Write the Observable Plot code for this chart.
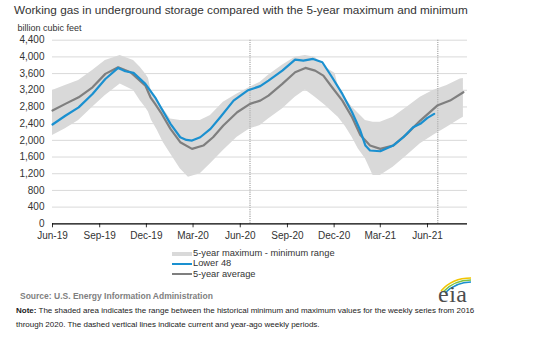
<!DOCTYPE html>
<html><head><meta charset="utf-8">
<script src="https://cdn.jsdelivr.net/npm/d3@7"></script>
<script src="https://cdn.jsdelivr.net/npm/@observablehq/plot@0.6"></script>
<style>
body{margin:0;background:#fff;font-family:"Liberation Sans",Arial,sans-serif;}
#root{position:relative;width:552px;height:350px;overflow:hidden;background:#fff;}
.t{position:absolute;white-space:nowrap;line-height:1;}
#chart{position:absolute;left:0;top:0;}
</style></head>
<body><div id="root">
<div class="t" style="left:14px;top:4px;font-size:11.75px;color:#333;">Working gas in underground storage compared with the 5-year maximum and minimum</div>
<div class="t" style="left:17.5px;top:23.9px;font-size:9px;color:#333;">billion cubic feet</div>
<div id="chart"></div>
<div id="legend"></div>
<div class="t" style="left:20px;top:292.3px;font-size:8.5px;color:#7f7f7f;font-weight:bold;">Source: U.S. Energy Information Administration</div>
<div class="t" style="left:16px;top:307.2px;font-size:8px;color:#222;"><b>Note:</b> The shaded area indicates the range between the historical minimum and maximum values for the weekly series from 2016</div>
<div class="t" style="left:16px;top:320.5px;font-size:8px;color:#222;">through 2020. The dashed vertical lines indicate current and year-ago weekly periods.</div>
<svg style="position:absolute;left:430px;top:274px;" width="60" height="34">
  <path d="M11,17 Q22,4 41,4" fill="none" stroke="#f2c500" stroke-width="1.6"/>
  <path d="M13,18 Q24,6 41,6" fill="none" stroke="#7cc242" stroke-width="1.6"/>
  <path d="M15,19 Q26,8 41,8" fill="none" stroke="#1a90d0" stroke-width="1.6"/>
  <text x="8" y="28" font-family="Liberation Serif, DejaVu Serif, serif" font-size="24" fill="#4d4d4d" letter-spacing="0.5">eia</text>
</svg>
</div>
<script>
// ---- data ----
const yTicks = [0, 400, 800, 1200, 1600, 2000, 2400, 2800, 3200, 3600, 4000, 4400];
const xTicks = ["2019-06-01","2019-09-01","2019-12-01","2020-03-01","2020-06-01","2020-09-01","2020-12-01","2021-03-01","2021-06-01"];
const xDomain = ["2019-06-01","2021-08-18"];
const weekMarkers = ["2020-06-20","2021-06-21"];

const bandDates = ["2019-06-01","2019-06-26","2019-07-22","2019-08-18","2019-09-12","2019-10-11","2019-11-06","2019-11-19","2019-11-29","2019-12-05","2019-12-11","2019-12-22","2020-01-03","2020-01-17","2020-02-05","2020-02-21","2020-03-15","2020-04-04","2020-04-29","2020-05-26","2020-06-20","2020-07-10","2020-07-26","2020-08-22","2020-09-16","2020-10-06","2020-10-25","2020-11-14","2020-12-03","2020-12-09","2020-12-23","2021-01-05","2021-01-17","2021-01-31","2021-02-15","2021-03-01","2021-03-26","2021-04-22","2021-05-18","2021-06-12","2021-07-09","2021-08-04","2021-08-10"];
const bandMax = [3193,3312,3432,3672,3911,4031,3911,3750,3593,3490,3150,2953,2750,2514,2474,2474,2474,2594,2913,3113,3272,3392,3560,3800,3990,4031,3990,3750,3600,3300,2994,2800,2650,2474,2434,2434,2554,2793,3032,3193,3312,3472,3480];
const bandMin = [2115,2275,2474,2793,3073,3350,3193,2950,2793,2680,2480,2250,1950,1676,1317,1116,1197,1437,1756,2074,2275,2354,2514,2754,3032,3209,3032,2833,2620,2554,2330,2074,1800,1557,1157,1157,1357,1636,1916,2115,2314,2514,2554];

const avgDates = ["2019-06-01","2019-06-26","2019-07-22","2019-08-18","2019-09-12","2019-10-07","2019-10-31","2019-11-29","2019-12-09","2019-12-18","2019-12-29","2020-01-17","2020-02-05","2020-02-28","2020-03-21","2020-04-09","2020-04-29","2020-05-26","2020-06-20","2020-07-10","2020-07-26","2020-08-22","2020-09-16","2020-10-06","2020-10-25","2020-11-10","2020-11-27","2020-12-17","2021-01-05","2021-01-21","2021-02-09","2021-03-01","2021-03-26","2021-04-22","2021-05-18","2021-06-20","2021-07-15","2021-08-10"];
const avgValues = [2713,2874,3032,3272,3593,3751,3631,3312,3032,2874,2673,2275,1955,1796,1875,2074,2354,2673,2874,2953,3073,3353,3631,3736,3672,3552,3272,2953,2554,2130,1875,1796,1875,2155,2474,2833,2953,3152];

const lower48Dates = ["2019-06-01","2019-06-26","2019-07-22","2019-08-18","2019-09-12","2019-10-07","2019-10-21","2019-11-06","2019-11-29","2019-12-18","2019-12-29","2020-01-17","2020-02-05","2020-02-17","2020-02-28","2020-03-15","2020-04-04","2020-04-23","2020-05-19","2020-06-15","2020-07-10","2020-07-26","2020-08-22","2020-09-16","2020-10-02","2020-10-21","2020-11-08","2020-11-27","2020-12-17","2021-01-05","2021-01-21","2021-01-31","2021-02-09","2021-03-01","2021-03-26","2021-04-15","2021-05-04","2021-05-18","2021-06-01","2021-06-14"];
const lower48Values = [2380,2590,2790,3110,3470,3736,3655,3616,3353,3032,2793,2395,2074,2010,1995,2074,2275,2554,2953,3193,3300,3432,3672,3935,3911,3951,3871,3512,3113,2673,2235,1875,1756,1739,1875,2074,2314,2395,2539,2634];

const legendItems = ["5-year maximum - minimum range","Lower 48","5-year average"];
const colors = {band:"#d9d9d9", lower48:"#1a90d0", avg:"#7f7f7f"};

// ---- build tables ----
const dt = s => new Date(s + "T00:00:00Z");
const band = bandDates.map((d,i)=>({date:dt(d), max:bandMax[i], min:bandMin[i]}));
const avg = avgDates.map((d,i)=>({date:dt(d), value:avgValues[i]}));
const lower48 = lower48Dates.map((d,i)=>({date:dt(d), value:lower48Values[i]}));

const chart = Plot.plot({
  width: 552, height: 245,
  marginLeft: 52, marginRight: 85, marginTop: 39.7, marginBottom: 21.7,
  style: {fontFamily:"Liberation Sans, Arial, sans-serif", fontSize:"10px", color:"#333", background:"transparent", overflow:"visible"},
  x: {type:"utc", domain: xDomain.map(dt), ticks: xTicks.map(dt), tickFormat: d3.utcFormat("%b-%y"), tickSize:4, tickPadding:4, label:null},
  y: {domain:[0,4400], ticks: yTicks, tickFormat: d3.format(","), tickSize:0, tickPadding:8, label:null},
  marks: [
    Plot.ruleY(yTicks.slice(1), {stroke:"#d9d9d9", strokeWidth:1}),
    Plot.areaY(band, {x:"date", y1:"min", y2:"max", fill:colors.band}),
    Plot.ruleX(weekMarkers.map(dt), {stroke:"#b8b8b8", strokeWidth:1.5, strokeDasharray:"1.2,1"}),
    Plot.line(avg, {x:"date", y:"value", stroke:colors.avg, strokeWidth:2.2}),
    Plot.line(lower48, {x:"date", y:"value", stroke:colors.lower48, strokeWidth:2.2}),
    Plot.ruleY([0], {stroke:"#000", strokeWidth:1.2})
  ]
});
document.getElementById("chart").appendChild(chart);

// ---- legend ----
const lg = document.getElementById("legend");
const tops = [248.9, 259.4, 269.6];
const swatch = [
  `<div style="position:absolute;left:172px;top:252px;width:20px;height:4px;background:${colors.band}"></div>`,
  `<div style="position:absolute;left:172px;top:262.5px;width:20px;height:2.4px;background:${colors.lower48}"></div>`,
  `<div style="position:absolute;left:172px;top:272.8px;width:20px;height:2.4px;background:${colors.avg}"></div>`
];
lg.innerHTML = legendItems.map((t,i)=> swatch[i] + `<div class="t" style="left:193px;top:${tops[i]}px;font-size:9.3px;color:#333;">${t}</div>`).join("");
</script>
</body></html>
